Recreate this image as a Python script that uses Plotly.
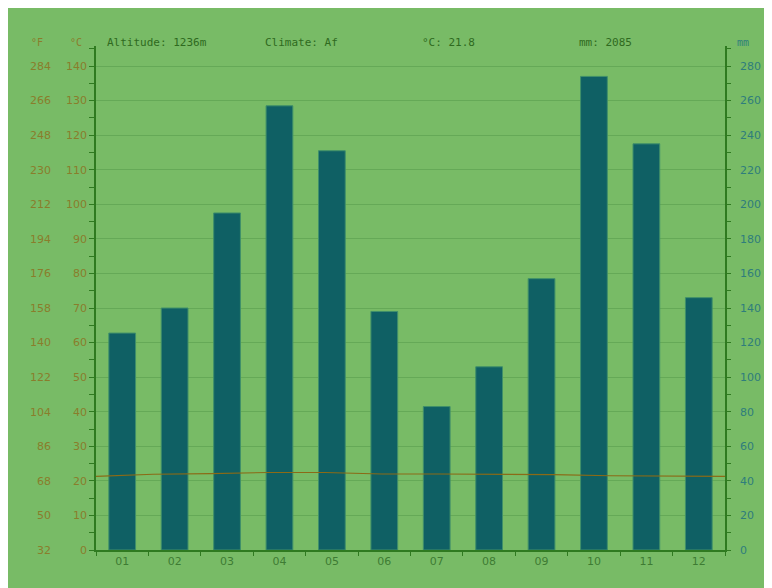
import plotly.graph_objects as go

months = ["01", "02", "03", "04", "05", "06", "07", "08", "09", "10", "11", "12"]
precip_mm = [125.5, 140, 195, 257, 231, 138, 83, 106, 157, 274, 235, 146]
temp_c = [21.3, 21.9, 22.1, 22.4, 22.4, 22.0, 22.0, 22.0, 21.8, 21.5, 21.3, 21.3]
c_ticks = [0, 10, 20, 30, 40, 50, 60, 70, 80, 90, 100, 110, 120, 130, 140]
f_ticks = [32, 50, 68, 86, 104, 122, 140, 158, 176, 194, 212, 230, 248, 266, 284]
mm_ticks = [0, 20, 40, 60, 80, 100, 120, 140, 160, 180, 200, 220, 240, 260, 280]
header = [("Altitude: 1236m", 105), ("Climate: Af", 263), ("°C: 21.8", 420), ("mm: 2085", 577)]

W, H = 840, 660
OFF = 8  # page body margin
L, T = 43, 38
R = W - (725 - OFF)
B = H - (550 - OFF)
PW = W - L - R
PH = H - T - B
c_max = 145.8

def px_x(px):  # px = screen x
    return (px - OFF - L) / PW

def px_y(py):  # py = screen y
    return (H - B - (py - OFF)) / PH

BG = "#78bb66"
AXIS = "#2f7a20"
GRID = "#65a957"
LEFT_TXT = "#8a7d2c"
RIGHT_TXT = "#2f7d7c"
XTXT = "#3e7b33"
HEAD = "#2f6a20"

fig = go.Figure()
fig.add_trace(go.Bar(
    x=months, y=precip_mm, xaxis="x", yaxis="y",
    marker=dict(color="#0f6064", line=dict(color="#3f8f6a", width=1)),
    width=0.51, showlegend=False, hoverinfo="skip",
))
fig.add_trace(go.Scatter(
    x=list(range(len(temp_c))), y=temp_c, xaxis="x2", yaxis="y2",
    mode="lines", line=dict(color="#8b6a16", width=1.1),
    showlegend=False, hoverinfo="skip",
))
# invisible trace to activate the Fahrenheit axis
fig.add_trace(go.Scatter(x=[None], y=[None], xaxis="x", yaxis="y3",
                         showlegend=False, hoverinfo="skip"))

tickfont = dict(family="DejaVu Sans", size=11)
dom = [px_x(96), 1]

fig.update_layout(
    width=W, height=H,
    margin=dict(l=L, r=R, t=T, b=B, pad=0),
    paper_bgcolor=BG,
    plot_bgcolor=BG,
    xaxis=dict(
        domain=dom, type="category", range=[-0.5, 11.5],
        tickson="boundaries", ticks="outside", ticklen=4, tickcolor=AXIS,
        showline=True, linecolor=AXIS, linewidth=1.5, showgrid=False,
        tickfont=dict(color=XTXT, **tickfont), anchor="y",
    ),
    xaxis2=dict(
        domain=dom, overlaying="x", range=[0, 11],
        visible=False, anchor="y2",
    ),
    # mm axis (primary, right) carries the gridlines
    yaxis=dict(
        range=[0, c_max * 2], tickvals=mm_ticks, side="right",
        ticks="outside", ticklen=4, tickcolor=AXIS, showline=True,
        linecolor=AXIS, linewidth=1.5, showgrid=True, gridcolor=GRID,
        gridwidth=1, zeroline=False, ticklabelstandoff=7,
        tickfont=dict(color=RIGHT_TXT, **tickfont),
        minor=dict(dtick=10, ticks="outside", ticklen=4, tickcolor=AXIS, showgrid=False),
        anchor="x",
    ),
    # Celsius axis (left)
    yaxis2=dict(
        range=[0, c_max], tickvals=c_ticks, overlaying="y", side="left",
        ticks="outside", ticklen=5, tickcolor=AXIS, showline=True,
        linecolor=AXIS, linewidth=1.5, showgrid=False, zeroline=False,
        tickfont=dict(color=LEFT_TXT, **tickfont),
        minor=dict(dtick=5, ticks="outside", ticklen=5, tickcolor=AXIS, showgrid=False),
        anchor="x",
    ),
    # Fahrenheit axis (far left)
    yaxis3=dict(
        range=[32, 32 + c_max * 1.8], tickvals=f_ticks, overlaying="y",
        side="left", anchor="free", position=0, ticks="", showline=False,
        showgrid=False, zeroline=False,
        tickfont=dict(color=LEFT_TXT, **tickfont),
    ),
)

annots = []
for text, px in header:
    annots.append(dict(text=text, x=px_x(px), y=px_y(42), xref="paper", yref="paper",
                       xanchor="left", yanchor="middle", showarrow=False,
                       font=dict(family="DejaVu Sans Mono", size=11, color=HEAD)))
for text, px, col in [("°F", 37, LEFT_TXT), ("°C", 76, LEFT_TXT), ("mm", 743, RIGHT_TXT)]:
    annots.append(dict(text=text, x=px_x(px), y=px_y(42), xref="paper", yref="paper",
                       xanchor="center", yanchor="middle", showarrow=False,
                       font=dict(family="DejaVu Sans Mono", size=10, color=col)))
fig.update_layout(annotations=annots)

fig.write_html("out.html")
